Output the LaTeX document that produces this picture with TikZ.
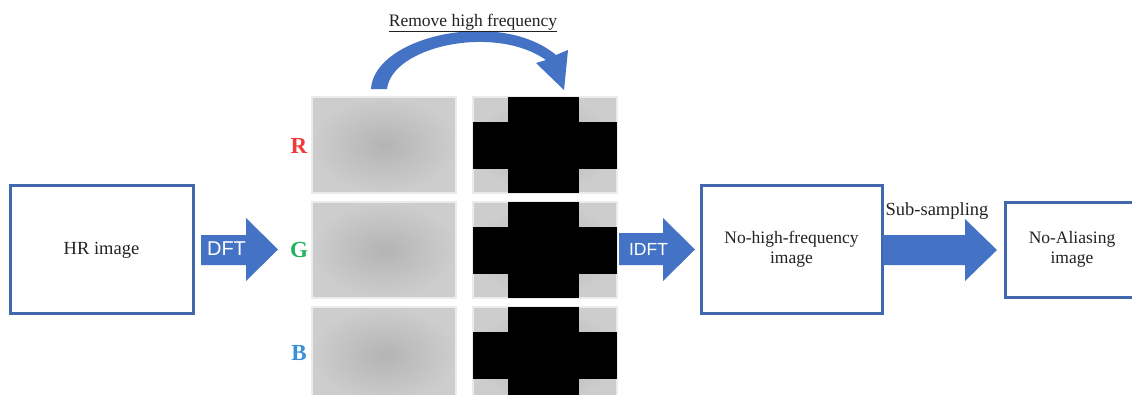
\documentclass[tikz,border=0pt]{standalone}
\usepackage{fontspec}
\setmainfont{Liberation Serif}
\newfontfamily\arialfont{Liberation Sans}
\usetikzlibrary{calc}
\definecolor{arrblue}{HTML}{4472C4}
\definecolor{boxblue}{HTML}{4167AC}
\definecolor{rred}{HTML}{F23A3A}
\definecolor{ggreen}{HTML}{22B25A}
\definecolor{bblue}{HTML}{3A8FD8}
\definecolor{specin}{HTML}{B4B4B4}
\definecolor{specout}{HTML}{CDCDCD}
\definecolor{txtgray}{HTML}{222222}
\tikzset{
  imgbox/.style={draw=boxblue, line width=3pt, fill=white},
  lbl/.style={font=\fontsize{17.5}{20}\selectfont, text=txtgray, align=center, inner sep=0pt},
  arrlbl/.style={font=\arialfont\fontsize{17.5}{20}\selectfont, text=white, inner sep=0pt},
  chan/.style={font=\bfseries\fontsize{23}{24}\selectfont, inner sep=0pt},
  spec/.style={draw=black!8, line width=1.2pt, inner color=specin, outer color=specout},
  blk/.style={fill=arrblue, draw=none}
}
\newcommand{\blkarrow}[8]{%
  % x1 xh x2 shafttop shaftbot headtop headbot midy
  \fill[blk] (#1,#4) -- (#2,#4) -- (#2,#6) -- (#3,#8) -- (#2,#7) -- (#2,#5) -- (#1,#5) -- cycle;}
\newcommand{\spectrum}[3]{%
  % name, x left, y top
  \path[spec] (#2,#3) rectangle ++(144,96);
  \coordinate (#1) at ($(#2,#3)+(72,48)$);}
\newcommand{\masked}[3]{%
  \path[spec] (#2,#3) rectangle ++(144,96);
  \fill[black] ($(#2,#3)+(35,0)$) rectangle ++(71,96);
  \fill[black] ($(#2,#3)+(0,25)$) rectangle ++(144,47);
  \coordinate (#1) at ($(#2,#3)+(72,48)$);}
\begin{document}
\begin{tikzpicture}[x=1pt,y=-1pt]
\useasboundingbox (0,0) rectangle (1132,394);
\clip (0,0) rectangle (1132,394);
\fill[white] (0,0) rectangle (1132,394);

% boxes
\draw[imgbox] (10,185) rectangle (193,313);
\node[lbl, font=\fontsize{18.5}{20}\selectfont] (hr) at (101.5,250) {HR image};
\draw[imgbox] (701,185) rectangle (882,313);
\node[lbl] (nhf) at (791.5,249) {No-high-frequency\\image};
\draw[imgbox] (1005,202) rectangle (1142,297);
\node[lbl] (na) at (1072,249) {No-Aliasing\\image};

% block arrows
\blkarrow{201}{246}{278}{235}{265}{218}{281}{249.5}
\node[arrlbl, font=\arialfont\fontsize{20}{20}\selectfont] (dft) at (226.5,249) {DFT};
\blkarrow{619}{663}{695}{233}{265}{218}{281}{249.5}
\node[arrlbl] (idft) at (648.5,249) {IDFT};
\blkarrow{883}{965}{997}{235}{265}{219}{281}{250}
\node[lbl, font=\fontsize{18.5}{20}\selectfont] (sub) at (937,211) {Sub-sampling};

% spectra
\spectrum{s1}{312}{97}
\spectrum{s2}{312}{202}
\spectrum{s3}{312}{307}
\masked{m1}{473}{97}
\masked{m2}{473}{202}
\masked{m3}{473}{307}

% channel letters
\node[chan, text=rred] (R) at (299,146) {R};
\node[chan, text=ggreen] (G) at (299,250) {G};
\node[chan, text=bblue] (B) at (299,353) {B};

% curved arrow
\fill[arrblue] (371,89) .. controls (374,36) and (500,8) .. (556,55)
  -- (568,50) -- (564,90) -- (536,63) -- (546,60)
  .. controls (495,24) and (392,46) .. (387,89) -- cycle;
\node[lbl] (rm) at (473,23) {\underline{Remove high frequency}};
\end{tikzpicture}
\end{document}
